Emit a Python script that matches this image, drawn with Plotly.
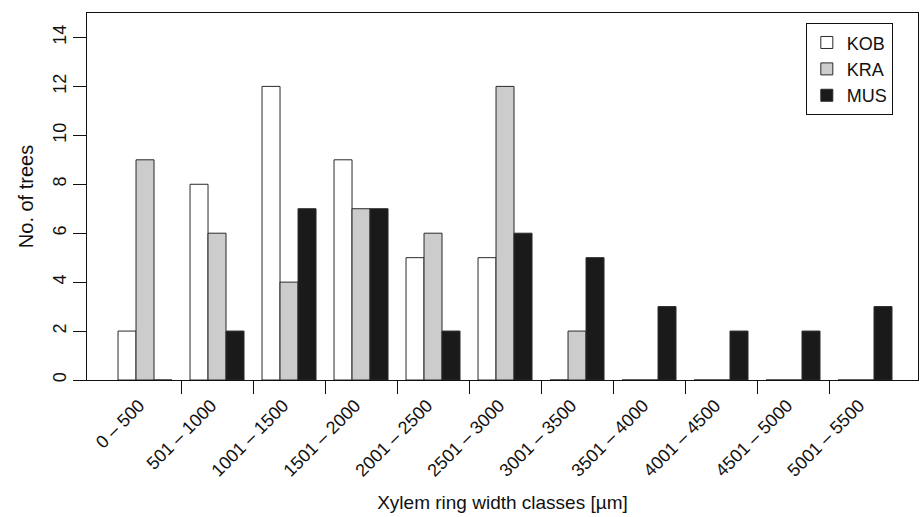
import plotly.graph_objects as go

# Xylem ring width classes (µm) and tree counts per site
classes = ["0 – 500", "501 – 1000", "1001 – 1500", "1501 – 2000", "2001 – 2500",
           "2501 – 3000", "3001 – 3500", "3501 – 4000", "4001 – 4500",
           "4501 – 5000", "5001 – 5500"]
kob = [2, 8, 12, 9, 5, 5, 0, 0, 0, 0, 0]
kra = [9, 6, 4, 7, 6, 12, 2, 0, 0, 0, 0]
mus = [0, 2, 7, 7, 2, 6, 5, 3, 2, 2, 3]

series = [("KOB", kob, "#ffffff"), ("KRA", kra, "#cccccc"), ("MUS", mus, "#1a1a1a")]
pos = list(range(len(classes)))
FONT = "Liberation Sans, Arial, Helvetica, sans-serif"

fig = go.Figure()
for name, vals, col in series:
    fig.add_trace(go.Bar(
        x=pos, y=vals, name=name,
        marker=dict(color=col, line=dict(color="#2a2a2a", width=1)),
    ))

# invisible trace to carry the rotated category labels on a second x axis
fig.add_trace(go.Scatter(x=pos, y=[0] * len(pos), xaxis="x2", mode="markers",
                         marker=dict(opacity=0), showlegend=False, hoverinfo="skip"))

xr = [-0.806, 10.736]
fig.update_layout(
    width=920, height=517,
    margin=dict(l=87, r=2, t=13, b=137),
    paper_bgcolor="white", plot_bgcolor="white",
    font=dict(family=FONT, size=18, color="#111"),
    barmode="group", bargap=0.25, bargroupgap=0,
    showlegend=True,
    legend=dict(x=0.865, y=0.972, xanchor="left", yanchor="top",
                bordercolor="#111", borderwidth=1, bgcolor="white",
                font=dict(size=18), tracegroupgap=0, itemwidth=30),
    xaxis=dict(range=xr, tickvals=[i + 0.5 for i in range(len(classes) - 1)],
               showticklabels=False, ticks="outside", ticklen=13, tickcolor="#111",
               showline=True, linecolor="#111", linewidth=1, mirror=True,
               showgrid=False, zeroline=False,
               title=dict(text="Xylem ring width classes [µm]", font=dict(size=19),
                          standoff=102)),
    xaxis2=dict(range=xr, overlaying="x", side="bottom", anchor="y",
                tickvals=[p - 0.08 for p in pos], ticktext=classes, tickangle=-45,
                ticks="outside", ticklen=7, tickcolor="rgba(0,0,0,0)",
                showline=False, showgrid=False, zeroline=False,
                tickfont=dict(size=18)),
    yaxis=dict(range=[0, 15], tickvals=list(range(0, 15, 2)), tickangle=-90,
               ticks="outside", ticklen=13, tickcolor="#111",
               showline=True, linecolor="#111", linewidth=1, mirror=True,
               showgrid=False, zeroline=False, tickfont=dict(size=18),
               title=dict(text="No. of trees", font=dict(size=20), standoff=10)),
)

fig.write_html("out.html")
